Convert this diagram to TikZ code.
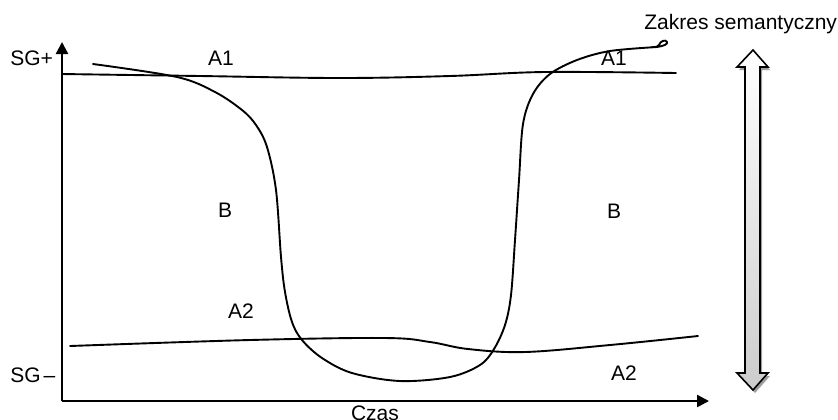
\documentclass[tikz,border=0pt]{standalone}
\usepackage{fontspec}
\setmainfont{Liberation Sans}
\usetikzlibrary{arrows.meta}
\begin{document}
\begin{tikzpicture}[x=0.5pt,y=-0.5pt,
  lbl/.style={font=\fontsize{10.5}{12}\selectfont, inner sep=0pt, anchor=base},
  axis/.style={line width=1.2pt, -{Triangle[length=6pt,width=6pt]}},
  trace/.style={line width=0.95pt, line join=round, line cap=round}]
\useasboundingbox (0,0) rectangle (838,419);

% axes
\coordinate (origin) at (62,401);
\coordinate (ytop) at (62,42);
\coordinate (xend) at (709,401);
\draw[axis] (origin) -- (ytop);
\draw[axis] (origin) -- (xend);

% axis labels
\node[lbl, anchor=base west] (sgp) at (10,65) {SG+};
\node[lbl, anchor=base west] (sgm) at (10,382) {SG\kern1.5pt–};
\node[lbl] (czas) at (375,420) {Czas};
\node[lbl, anchor=base west] (zakres) at (644,29) {Zakres semantyczny};

% region labels
\node[lbl] (a1l) at (221,65) {A1};
\node[lbl] (a1r) at (614,65) {A1};
\node[lbl] (bl) at (225,217) {B};
\node[lbl] (br) at (614,218) {B};
\node[lbl] (a2l) at (241,318) {A2};
\node[lbl] (a2r) at (624,380) {A2};

% upper band
\draw[trace] plot[smooth, tension=0.6] coordinates
  {(62,74) (200,76) (340,78) (450,76) (545,72) (676,73)};

% lower band
\draw[trace] plot[smooth, tension=0.6] coordinates
  {(70,346) (250,340) (385,338) (430,342) (468,349) (525,352) (610,345) (698,336)};

% transition curve
\draw[trace] plot[smooth, tension=0.55] coordinates
  {(93,64) (177,77) (215,92) (242,110) (256,125) (267,147) (276,190)
   (281,257) (285,292) (292,322) (302,340) (322,358) (352,373) (400,381)
   (450,377) (480,365) (494,349) (505,325) (511,295) (515,240) (519,180)
   (523,124) (533,94) (550,74) (577,60) (610,51) (657,47)}
  .. controls (664,46) and (668,44) .. (667,42)
  .. controls (666,39) and (660,41) .. (659,45)
  .. controls (658,47) and (656,47) .. (652,47);

% semantic range double arrow
\fill[gray!75] ([shift={(2,3)}]753,50) -- ++(15,17) -- ++(-8,0) -- ++(0,306) -- ++(8,0)
  -- ++(-15,17) -- ++(-16,-17) -- ++(8,0) -- ++(0,-306) -- ++(-8,0) -- cycle;
\draw[line width=0.8pt, top color=white, bottom color=gray!40]
  (753,50) -- (768,67) -- (760,67) -- (760,373) -- (768,373) -- (753,390)
  -- (737,373) -- (745,373) -- (745,67) -- (737,67) -- cycle;
\end{tikzpicture}
\end{document}
